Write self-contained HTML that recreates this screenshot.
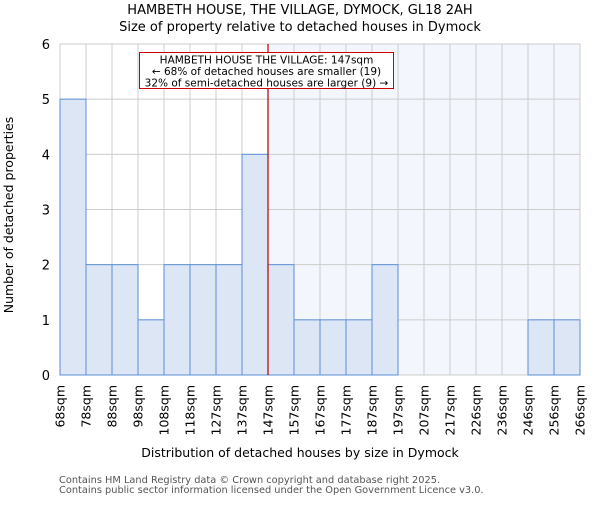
<!DOCTYPE html>
<html><head><meta charset="utf-8"><style>
body{margin:0;background:#fff;}
svg{font-family:"DejaVu Sans","Liberation Sans",sans-serif;}
</style></head><body>
<svg id="c" width="600" height="500">
<text x="300" y="14" text-anchor="middle" font-size="13">HAMBETH HOUSE, THE VILLAGE, DYMOCK, GL18 2AH</text>
<text x="300" y="31" text-anchor="middle" font-size="13">Size of property relative to detached houses in Dymock</text>
<g id="plot"></g>
<text x="300" y="457" text-anchor="middle" font-size="12.5">Distribution of detached houses by size in Dymock</text>
<text transform="translate(13,215) rotate(-90)" text-anchor="middle" font-size="12.5">Number of detached properties</text>
<text x="59" y="483" font-size="9.8" fill="#555">Contains HM Land Registry data © Crown copyright and database right 2025.</text>
<text x="59" y="493" font-size="9.8" fill="#555">Contains public sector information licensed under the Open Government Licence v3.0.</text>
</svg>
<script>
const categories=["68sqm","78sqm","88sqm","98sqm","108sqm","118sqm","127sqm","137sqm","147sqm","157sqm","167sqm","177sqm","187sqm","197sqm","207sqm","217sqm","226sqm","236sqm","246sqm","256sqm","266sqm"];
const counts=[5,2,2,1,2,2,2,4,2,1,1,1,2,0,0,0,0,0,1,1];
const yTicks=[0,1,2,3,4,5,6];
const markerIndex=8;
const L=60,R=580,T=44,B=375,yMax=6;
const bw=(R-L)/counts.length;
const x=i=>L+i*bw;
const y=v=>B-(B-T)*v/yMax;
const g=document.getElementById('plot');
const NS="http://www.w3.org/2000/svg";
function mk(t,a){const e=document.createElementNS(NS,t);for(const k in a)e.setAttribute(k,a[k]);g.appendChild(e);return e;}
let e=mk('rect',{x:x(markerIndex),y:T,width:R-x(markerIndex),height:B-T,fill:"#f3f6fd"});


yTicks.forEach(t=>{let l=mk('line',{x1:L,x2:R,y1:y(t),y2:y(t),stroke:"#ccc","stroke-width":1});


let tx=mk('text',{x:L-10,y:y(t)+5,"text-anchor":"end","font-size":13});tx.textContent=t;

});
categories.forEach((c,i)=>{let l=mk('line',{x1:x(i),x2:x(i),y1:T,y2:B,stroke:"#ccc","stroke-width":1});


let tx=mk('text',{transform:`translate(${x(i)+4.5},385) rotate(-90)`,"text-anchor":"end","font-size":12.5});tx.textContent=c;

});
counts.forEach((v,i)=>{if(v<=0)return;let r=mk('rect',{x:x(i),y:y(v),width:bw,height:B-y(v),fill:"#dce6f4",stroke:"#5b8fd6","stroke-width":1});

});
e=mk('line',{x1:x(markerIndex),x2:x(markerIndex),y1:T,y2:B,stroke:"#b00000","stroke-width":1.2});


e=mk('rect',{x:139.5,y:52.5,width:254,height:36,fill:"#fff",stroke:"#c00","stroke-width":1});


["HAMBETH HOUSE THE VILLAGE: 147sqm","← 68% of detached houses are smaller (19)","32% of semi-detached houses are larger (9) →"].forEach((s,k)=>{let t=mk('text',{x:266.5,y:63.5+k*11.5,"text-anchor":"middle","font-size":10.5});t.textContent=s;

});
</script>
</body></html>
